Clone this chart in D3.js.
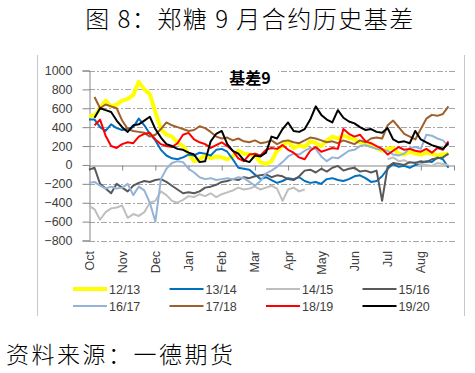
<!DOCTYPE html>
<html>
<head>
<meta charset="utf-8">
<script src="https://cdn.jsdelivr.net/npm/d3@7"></script>
<style>
  body { margin: 0; background: #fff; }
  svg { display: block; }
  .cjk { font-family: "Noto Sans CJK SC", sans-serif; fill: #000; font-weight: 300; }
  .tick-label { font-family: "Liberation Sans", Arial, sans-serif; font-size: 12.5px; fill: #404040; }
</style>
</head>
<body>
<svg width="475" height="373"></svg>
<script>
// month labels along the x axis (Oct = 0)
const months = ['Oct', 'Nov', 'Dec', 'Jan', 'Feb', 'Mar', 'Apr', 'May', 'Jun', 'Jul', 'Aug'];
const yTicks = [-800, -600, -400, -200, 0, 200, 400, 600, 800, 1000];
const seriesNames = ['12/13', '13/14', '14/15', '15/16', '16/17', '17/18', '18/19', '19/20'];
const seriesColors = ['#FFFF00', '#0070C0', '#BFBFBF', '#595959', '#95B3D7', '#A0602A', '#FF0000', '#000000'];

// basis values, one point every 1/6 month from early Oct
const s1213 = [520, 520, 600, 680, 620, 640, 680, 700, 740, 880, 800, 750, 560, 380, 320, 300, 240, 200, 120, 40,
  60, 100, 70, 90, 80, 60, 90, 150, 120, 110, 100, 30, 10, 40, 150, 200, 250, 180, 210, 190,
  250, 230, 200, 260, 300, 280, 310, 290, 270, 240, 220, 200, 180, 150, 170, 180, 120, 110, 140, 120,
  110, 130, 120, 100, 110, 120];
const s1314 = [480, 480, 400, 360, 430, 390, 370, 380, 400, 490, 420, 330, 260, 160, 100, 70, 60, 80, 110, 100,
  130, 120, 100, 160, 170, 140, 60, -30, -40, -50, -100, -150, -130, -160, -190, -170, -140, -150, -130, -170,
  -190, -180, -200, -150, -140, -160, -170, -150, -120, -110, -140, -180, -170, -120, -40, 10, -20, -10, -30, 0,
  20, 40, 30, 80, 60, -30];
const s1415 = [-430, -470, -580, -500, -460, -450, -430, -560, -520, -540, -500, -400, -380, -280, -320, -380, -400, -370, -330, -340,
  -310, -330, -300, -340, -310, -290, -270, -240, -260, -250, -230, -260, -240, -220, -250, -380, -260, -240, -280, -260,
  null, null, null, null, null, null, null, null, null, null, null, null, null, null, 60, 80, 40, 50, 20, 30,
  10, 0, -10, 20, 10, 0];
const s1516 = [-50, -30, -200, -250, -300, -200, -240, -280, -220, -190, -170, -180, -160, -150, -180, -220, -260, -300, -290, -300,
  -280, -240, -230, -210, -180, -170, -150, -160, -130, -140, -120, -110, -100, -130, -110, -120, -150, -160, -120, -60,
  -50, -80, -40, -70, -30, -10, -60, -40, -30, -70, -60, -80, -60, -380, -20, 20, 10, 0, 30, 20,
  40, 30, 60, 70, 80, 120];
const s1617 = [-190, -180, -220, -250, -230, -250, -240, -200, -320, -230, -270, -400, -600, -150, -40, 20, 40, 30, -40, -80,
  -130, -150, -140, -160, -150, -140, -150, -130, -140, -180, -220, -170, -90, -60, -20, 30, 90, 120, 110, 150,
  180, 170, 90, 40, 80, 70, 110, 150, 160, 200, 210, 190, 170, 160, 150, 110, 100, 120, 180, 190,
  170, 320, 310, 280, 260, 200];
const s1718 = [null, 720, 600, 640, 620, 600, 470, 380, 360, 350, 340, 300, 320, 380, 450, 420, 400, 380, 360, 370,
  410, 390, 350, 300, 280, 290, 260, 280, 250, 240, 260, 230, 240, 260, 220, 250, 260, 240, 230, 260,
  290, 280, 260, 240, 250, 230, 260, 240, 220, 260, 240, 280, 290, 280, 420, 470, 400, 330, 300, 270,
  380, 490, 530, 520, 540, 620];
const s1819 = [null, 420, 480, 310, 200, 180, 220, 240, 230, 300, 330, 340, 270, 220, 200, 190, 230, 320, 340, 270,
  240, 220, 180, 210, 240, 200, 150, 70, 40, 110, 120, 100, 160, 180, 170, 210, 160, 130, 80, 60,
  150, 190, 140, 160, 180, 170, 380, 330, 300, 320, 250, 230, 200, 170, 110, 150, 190, 160, 170, 150,
  140, 170, 130, 180, 160, 250];
const s1920 = [null, 500, 600, 580, 560, 470, 400, 350, 420, 430, 470, 510, 380, 290, 220, 200, 170, 160, 130, 110,
  30, 40, 250, 330, 360, 220, 150, 120, 50, 30, 100, 90, 130, 300, 280, 380, 450, 360, 350, 380,
  480, 620, 530, 480, 450, 580, 500, 460, 440, 400, 370, 380, 350, 340, 390, 270, 240, 250, 230, 360,
  270, 240, 210, 190, 170, 230];

const allSeries = [s1213, s1314, s1415, s1516, s1617, s1718, s1819, s1920];

const svg = d3.select('svg');

const xScale = d3.scaleLinear().domain([0, 11]).range([89, 454]);
const yScale = d3.scaleLinear().domain([-800, 1000]).range([240.5, 70.5]);
const xOf = (d, i) => xScale(i / 6);

// outer frame sides
svg.append('line').attr('x1', 37.5).attr('x2', 37.5).attr('y1', 55).attr('y2', 316)
  .attr('stroke', '#c8c8c8');
svg.append('line').attr('x1', 464.5).attr('x2', 464.5).attr('y1', 55).attr('y2', 316)
  .attr('stroke', '#c8c8c8');

// figure title and source
svg.append('text').attr('class', 'cjk')
  .attr('x', 250).attr('y', 28).attr('text-anchor', 'middle')
  .style('font-size', '24px').style('letter-spacing', '1.5px')
  .text('图 8：郑糖 9 月合约历史基差');

svg.append('text').attr('class', 'cjk')
  .attr('x', 6).attr('y', 363)
  .style('font-size', '23px').style('letter-spacing', '2.5px')
  .text('资料来源：一德期货');

// grid lines (dash-dot)
svg.append('g').selectAll('line').data(yTicks.filter(d => d !== 0))
  .enter().append('line')
    .attr('x1', 89).attr('x2', 455)
    .attr('y1', d => Math.round(yScale(d)) + 0.5)
    .attr('y2', d => Math.round(yScale(d)) + 0.5)
    .attr('stroke', '#a6a6a6')
    .attr('stroke-dasharray', '6,2,2,2');

// y axis
const yAxisG = svg.append('g')
  .attr('transform', 'translate(89.5,0)')
  .call(d3.axisLeft(yScale).tickValues(yTicks).tickFormat(d3.format('d')).tickSize(7).tickPadding(10));
yAxisG.select('.domain').attr('stroke', '#868686');
yAxisG.selectAll('.tick line').attr('stroke', '#868686');
yAxisG.selectAll('.tick text').attr('class', 'tick-label').attr('fill', null);

// x axis on the zero line
const xAxisG = svg.append('g')
  .attr('transform', `translate(0,${Math.round(yScale(0)) + 0.5})`)
  .call(d3.axisBottom(xScale).tickValues(d3.range(0, 12)).tickSize(5).tickSizeOuter(0).tickFormat(''));
xAxisG.select('.domain').attr('stroke', '#868686');
xAxisG.selectAll('.tick line').attr('stroke', '#868686');

// rotated month labels
svg.append('g').selectAll('text').data(months)
  .enter().append('text')
    .attr('class', 'tick-label')
    .attr('text-anchor', 'end')
    .attr('transform', (d, i) => `translate(${xScale(i) + 4.5},251) rotate(-90)`)
    .text(d => d);

// series lines
const line = d3.line()
  .defined(d => d !== null)
  .x(xOf)
  .y(d => yScale(d));

svg.append('g').selectAll('path').data(allSeries)
  .enter().append('path')
    .attr('d', line)
    .attr('fill', 'none')
    .attr('stroke', (d, i) => seriesColors[i])
    .attr('stroke-width', (d, i) => i === 0 ? 4 : 2)
    .attr('stroke-linejoin', 'round');

// chart title
svg.append('rect').attr('x', 222).attr('y', 66).attr('width', 56).attr('height', 21).attr('fill', '#fff');
svg.append('text')
  .attr('x', 250).attr('y', 84).attr('text-anchor', 'middle')
  .style('font-family', '"Noto Sans CJK SC", sans-serif')
  .style('font-size', '16px').style('font-weight', 'bold')
  .text('基差9');

// legend
const legend = svg.append('g').selectAll('g').data(seriesNames)
  .enter().append('g')
    .attr('transform', (d, i) => `translate(${73 + (i % 4) * 96.5},${i < 4 ? 289 : 306})`);
legend.append('line')
  .attr('x1', 0).attr('x2', 34)
  .attr('stroke', (d, i) => seriesColors[i])
  .attr('stroke-width', (d, i) => i === 0 ? 4 : 2);
legend.append('text')
  .attr('class', 'tick-label')
  .attr('x', 36).attr('y', 5)
  .text(d => d);
</script>
</body>
</html>
